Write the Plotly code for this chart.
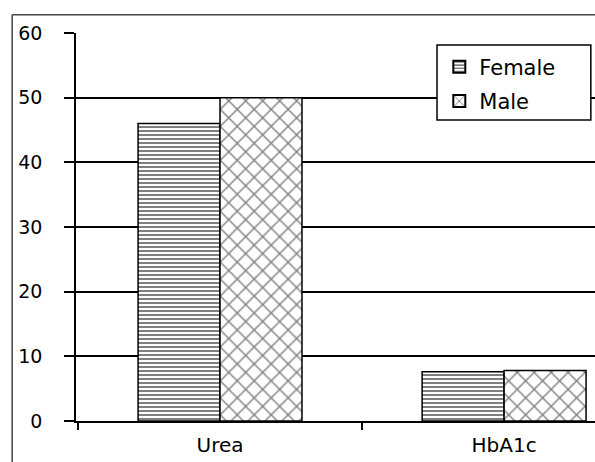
import plotly.graph_objects as go

# Mean values by test and sex
categories = ["Urea", "HbA1c"]
female_values = [46.0, 7.6]
male_values = [50.0, 7.8]
y_ticks = [0, 10, 20, 30, 40, 50, 60]

font_family = "DejaVu Sans, Verdana, sans-serif"

fig = go.Figure()
fig.add_trace(go.Bar(
    name="Female", x=categories, y=female_values, legendgroup="f",
    marker=dict(color="white", line=dict(color="black", width=1.5),
                pattern=dict(shape="-", fgcolor="black", bgcolor="white",
                             size=4, solidity=0.5)),
))
fig.add_trace(go.Bar(
    name="Male", x=categories, y=male_values, legendgroup="m",
    marker=dict(color="white", line=dict(color="black", width=1.5),
                pattern=dict(shape="x", fgcolor="black", bgcolor="white",
                             size=12, solidity=0.22)),
))

fig.update_layout(
    width=595, height=462,
    margin=dict(l=76, r=0, t=33, b=41, autoexpand=False),
    paper_bgcolor="white", plot_bgcolor="white",
    barmode="group", bargap=0.423, bargroupgap=0,
    font=dict(family=font_family, size=19, color="black"),
    showlegend=True,
    legend=dict(
        x=0.7, y=0.965, xanchor="left", yanchor="top",
        bgcolor="rgba(0,0,0,0)", borderwidth=0,
        font=dict(family=font_family, size=21, color="black"),
        tracegroupgap=4, itemsizing="constant", itemwidth=30,
    ),
    xaxis=dict(
        type="category", range=[-0.507, 1.32], automargin=False,
        showline=True, linecolor="black", linewidth=1.5,
        ticks="outside", tickson="boundaries", ticklen=7,
        tickcolor="black", tickwidth=1.5,
        showgrid=False, ticklabelstandoff=5,
        tickfont=dict(family=font_family, size=20),
    ),
    yaxis=dict(
        range=[0, 60], tickvals=y_ticks, automargin=False,
        showline=True, linecolor="black", linewidth=1.5,
        ticks="outside", ticklen=10, tickcolor="black", tickwidth=1.5,
        showgrid=True, gridcolor="black", gridwidth=1.5,
        zeroline=False, ticklabelstandoff=18,
        tickfont=dict(family=font_family, size=19),
    ),
)

# Legend frame, drawn over the gridlines
fig.add_shape(type="rect", xref="paper", yref="paper", layer="above",
              x0=0.6956, x1=0.992, y0=0.776, y1=0.969,
              fillcolor="white", line=dict(color="black", width=1.5))

# Outer frame around the chart area
fig.add_shape(type="line", xref="paper", yref="paper",
              x0=-0.123, x1=-0.123, y0=-0.2, y1=1.047,
              line=dict(color="#444", width=1.5))
fig.add_shape(type="line", xref="paper", yref="paper",
              x0=-0.123, x1=1.05, y0=1.047, y1=1.047,
              line=dict(color="#444", width=1.5))

fig.write_html("out.html")
